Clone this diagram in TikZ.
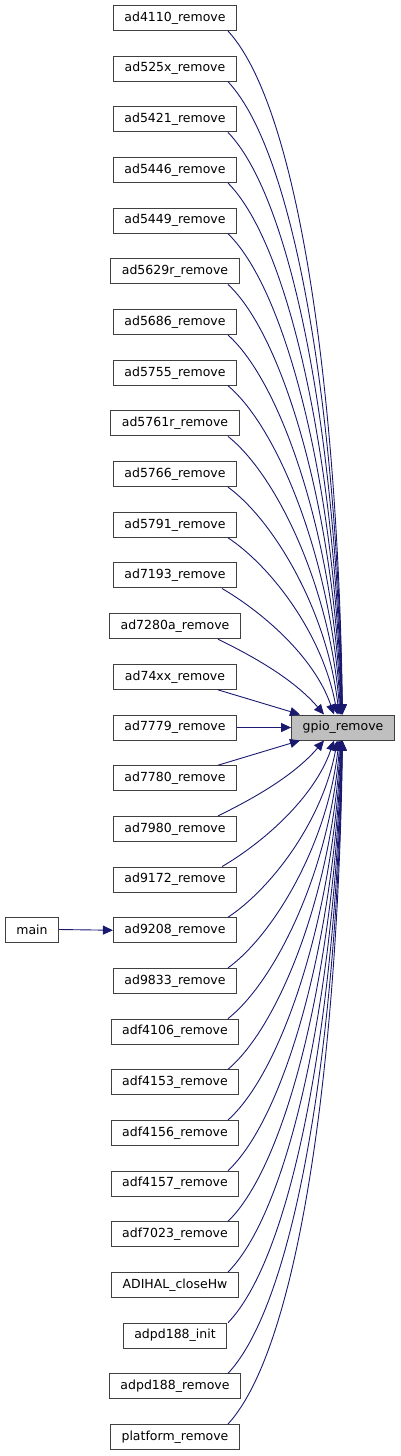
\documentclass[tikz,border=0pt]{standalone}
\usepackage{fontspec}
\setmainfont{DejaVu Sans}
\usetikzlibrary{arrows.meta}
\definecolor{edgeblue}{HTML}{191970}
\definecolor{gpiogray}{HTML}{BFBFBF}
\tikzset{
  fnbox/.style={draw=black!75, line width=1pt, fill=white, minimum height=25pt,
    inner xsep=11pt, inner ysep=2pt, font=\fontsize{12.5}{15}\selectfont},
  call/.style={draw=edgeblue, line width=0.9pt, -{Triangle[length=10pt,width=9pt]}}
}
\begin{document}
\begin{tikzpicture}[x=1pt, y=-1pt]
                    \useasboundingbox (0,0) rectangle (401,1456);
                    
                    % callers, one per row
                    \foreach \fn [count=\i from 0] in {ad4110\_remove, ad525x\_remove, ad5421\_remove,
                      ad5446\_remove, ad5449\_remove, ad5629r\_remove, ad5686\_remove, ad5755\_remove,
                      ad5761r\_remove, ad5766\_remove, ad5791\_remove, ad7193\_remove, ad7280a\_remove,
                      ad74xx\_remove, ad7779\_remove, ad7780\_remove, ad7980\_remove, ad9172\_remove,
                      ad9208\_remove, ad9833\_remove, adf4106\_remove, adf4153\_remove, adf4156\_remove,
                      adf4157\_remove, adf7023\_remove, ADIHAL\_closeHw, adpd188\_init,
                      adpd188\_remove, platform\_remove}
                      \node[fnbox] (f\i) at (175, 18+50.68*\i) {\fn};
                    
                    \node[fnbox, fill=gpiogray] (gpio) at (343, 727.5) {gpio\_remove};
                    \node[fnbox] (main) at (32, 929.5) {main};
                    
                    % curved calls from above
                    \foreach \i in {0,...,12}{
                      \pgfmathsetmacro\d{14-\i}
                      \pgfmathsetmacro\D{50.68*\d-25}
                      \pgfmathsetmacro\sx{\d>3 ? 53 : 35+4*\d}
                      \pgfmathsetmacro\ex{1-20/(\d-1)}
                      \pgfmathsetmacro\cx{30+3*\d}
                      \pgfmathsetmacro\cy{0.1*\D+10}
                      \pgfmathsetmacro\kx{60/\d}
                      \pgfmathsetmacro\hy{0.46*\D}
                      \draw[call] ([xshift=\sx pt]f\i.south) .. controls +(\cx,\cy) and +(-\kx,-\hy) .. ([xshift=\ex pt]gpio.north);
                    }
                    % curved calls from below
                    \foreach \i in {16,...,28}{
                      \pgfmathsetmacro\d{\i-14}
                      \pgfmathsetmacro\D{50.68*\d-25}
                      \pgfmathsetmacro\sx{\d>3 ? 53 : 35+4*\d}
                      \pgfmathsetmacro\ex{1-20/(\d-1)}
                      \pgfmathsetmacro\cx{30+3*\d}
                      \pgfmathsetmacro\cy{0.1*\D+10}
                      \pgfmathsetmacro\kx{60/\d}
                      \pgfmathsetmacro\hy{0.46*\D}
                      \draw[call] ([xshift=\sx pt]f\i.north) .. controls +(\cx,-\cy) and +(-\kx,\hy) .. ([xshift=\ex pt]gpio.south);
                    }
                    
                    % nearly straight calls
                    \draw[call] ([xshift=43pt]f13.south) -- ([xshift=-43pt]gpio.north);
                    \draw[call] (f14.east) -- (gpio.west);
                    \draw[call] ([xshift=43pt]f15.north) -- ([xshift=-43pt]gpio.south);
                    \draw[call] (main.east) -- (f18.west);
                \end{tikzpicture}
\end{document}
